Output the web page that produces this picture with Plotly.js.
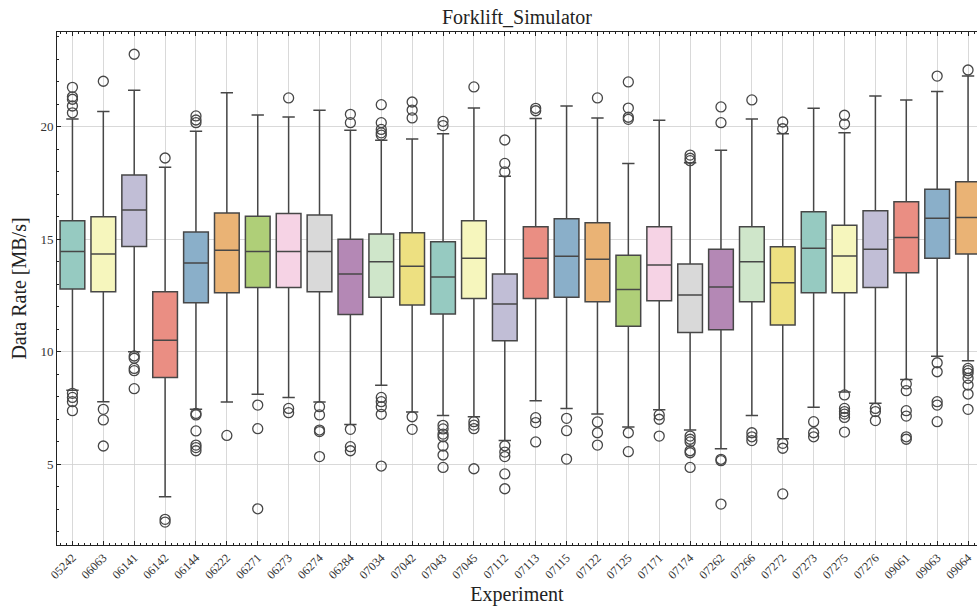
<!DOCTYPE html>
<html>
<head>
<meta charset="utf-8">
<script src="https://cdn.plot.ly/plotly-3.0.1.min.js"></script>
<style>html,body{margin:0;padding:0;background:#fff;}#chart{width:977px;height:610px;}</style>
</head>
<body>
<div id="chart"></div>
<script>
const experiments = ["05242","06063","06141","06142","06144","06222","06271","06273","06274","06284",
  "07034","07042","07043","07045","07112","07113","07115","07122","07125","07171",
  "07174","07262","07266","07272","07273","07275","07276","09061","09063","09064"];

const q1 = [12.78,12.66,14.67,8.85,12.17,12.61,12.85,12.85,12.66,11.64,
  12.41,12.07,11.67,12.36,10.48,12.36,12.41,12.21,11.12,12.26,
  10.84,10.97,12.21,11.18,12.61,12.61,12.85,13.50,14.14,14.33];
const medians = [14.44,14.33,16.29,10.50,13.93,14.50,14.44,14.44,14.44,13.44,
  13.99,13.79,13.31,14.14,12.11,14.14,14.23,14.10,12.76,13.84,
  12.51,12.87,13.99,13.06,14.59,14.24,14.54,15.07,15.92,15.96];
const q3 = [15.81,15.99,17.84,12.66,15.31,16.16,16.01,16.13,16.07,14.99,
  15.22,15.28,14.88,15.81,13.44,15.55,15.90,15.72,14.28,15.55,
  13.89,14.54,15.55,14.66,16.21,15.61,16.26,16.66,17.21,17.55];
const lowerWhisker = [8.28,7.77,9.99,3.55,7.43,7.76,8.10,7.96,7.76,6.76,
  8.50,7.31,7.16,7.10,6.04,7.81,7.47,7.22,6.64,7.41,
  6.51,5.68,7.16,6.12,7.52,8.20,7.70,8.76,9.79,9.59];
const upperWhisker = [20.33,20.67,21.61,18.19,19.79,21.50,20.51,20.42,20.72,19.83,
  19.39,19.44,19.68,20.82,17.79,20.35,20.91,20.38,18.35,20.28,
  18.39,18.94,20.33,19.68,20.81,19.72,21.36,21.18,21.56,22.24];
const outliers = [
  [21.74,21.32,21.21,20.91,20.61,8.14,7.96,7.77,7.37],
  [22.01,7.43,6.96,5.80],
  [23.21,9.80,9.70,9.25,9.15,8.35],
  [18.60,2.54,2.42],
  [20.47,20.29,20.17,7.25,7.18,6.47,5.84,5.73,5.59],
  [6.27],
  [7.62,6.57,3.01],
  [21.27,7.47,7.28],
  [7.55,7.18,6.51,6.44,5.33],
  [20.54,20.17,6.54,5.77,5.59],
  [20.97,20.17,19.87,19.72,19.62,7.96,7.77,7.55,7.21,4.91],
  [21.09,20.73,20.38,7.10,6.54],
  [20.23,20.04,6.72,6.56,6.33,6.21,5.80,5.40,4.85],
  [21.76,6.88,6.73,6.57,4.79],
  [19.40,18.36,17.98,5.81,5.53,5.33,4.56,3.90],
  [20.81,20.70,7.06,6.84,5.98],
  [7.03,6.48,5.22],
  [21.27,6.87,6.39,5.84],
  [21.98,20.82,20.41,20.32,6.39,5.55],
  [7.18,6.99,6.24],
  [18.73,18.59,18.48,6.24,6.10,5.98,5.59,5.50,4.85],
  [20.87,20.17,5.21,5.15,3.22],
  [21.18,6.39,6.21,6.04],
  [20.20,19.90,5.92,5.70,3.67],
  [6.88,6.39,6.21],
  [20.50,20.11,8.07,7.47,7.33,7.22,7.07,6.42],
  [7.47,7.33,6.93],
  [8.56,8.26,7.37,7.13,6.21,6.10],
  [22.24,9.50,9.10,7.77,7.62,6.88],
  [22.51,9.25,9.15,9.03,8.81,8.51,8.11,7.43]
];
const palette = ["#96cac1","#f6f6bd","#c1bed6","#ea8e83","#8aafc9","#eab375",
  "#afcf78","#f6d3e5","#d9d9d9","#b488b5","#cfe6ca","#ede081"];

const lineColor = "#474747";
const serif = "Liberation Serif, DejaVu Serif, serif";
const idx = experiments.map((_, i) => i);

const traces = [];
experiments.forEach((name, i) => {
  traces.push({
    type: "box",
    x: [i],
    q1: [q1[i]], median: [medians[i]], q3: [q3[i]],
    lowerfence: [lowerWhisker[i]], upperfence: [upperWhisker[i]],
    width: 0.8,
    whiskerwidth: 0.5,
    fillcolor: palette[i % palette.length],
    line: {color: lineColor, width: 1.5},
    boxpoints: false,
    hoverinfo: "skip",
    showlegend: false
  });
});
const ox = [], oy = [];
outliers.forEach((arr, i) => arr.forEach(v => { ox.push(i); oy.push(v); }));
traces.push({
  type: "scatter", mode: "markers", x: ox, y: oy,
  marker: {symbol: "circle-open", size: 10, color: lineColor, line: {width: 1.3, color: lineColor}},
  showlegend: false, hoverinfo: "skip"
});

const layout = {
  width: 977, height: 610,
  margin: {l: 57, r: 0, t: 32, b: 65},
  paper_bgcolor: "#fff", plot_bgcolor: "#fff",
  title: {text: "Forklift_Simulator", x: 0.5, xref: "paper", y: 0.972, yanchor: "middle",
    font: {family: serif, size: 20, color: "#222"}},
  font: {family: serif, color: "#222"},
  xaxis: {
    range: [-0.5, 29.29],
    tickmode: "array", tickvals: idx, ticktext: experiments,
    tickangle: -45, tickfont: {family: serif, size: 12, color: "#333"},
    ticks: "inside", ticklen: 4, tickcolor: "#222",
    showline: true, linecolor: "#222", linewidth: 1, mirror: "allticks",
    showgrid: true, gridcolor: "#d0d0d0", gridwidth: 0.8,
    zeroline: false,
    minor: {dtick: 0.2, tick0: 0, ticks: "inside", ticklen: 2, tickcolor: "#222", showgrid: false},
    title: {text: "Experiment", font: {family: serif, size: 20, color: "#222"}, standoff: 6}
  },
  yaxis: {
    range: [1.4, 24.2],
    tickmode: "linear", tick0: 0, dtick: 5,
    tickfont: {family: serif, size: 13, color: "#333"},
    ticks: "inside", ticklen: 4, tickcolor: "#222",
    showline: true, linecolor: "#222", linewidth: 1,
    showgrid: true, gridcolor: "#d0d0d0", gridwidth: 0.8,
    zeroline: false,
    minor: {dtick: 1, tick0: 0, ticks: "inside", ticklen: 2, tickcolor: "#222", showgrid: false},
    title: {text: "Data Rate [MB/s]", font: {family: serif, size: 20, color: "#222"}, standoff: 8}
  }
};

Plotly.newPlot("chart", traces, layout, {displayModeBar: false, staticPlot: true});
</script>
</body>
</html>
